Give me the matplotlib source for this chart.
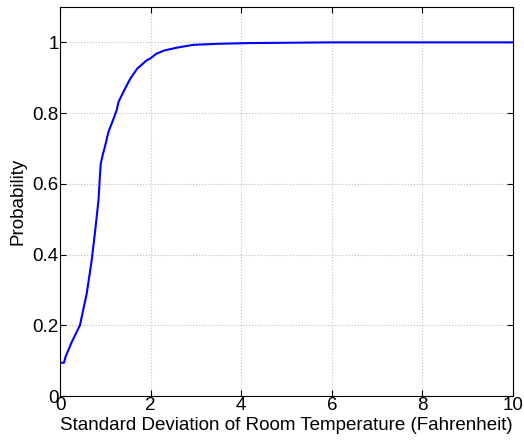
import matplotlib
matplotlib.use("Agg")
import matplotlib.pyplot as plt

plt.rcParams['font.family'] = ['Liberation Sans', 'DejaVu Sans']

std_dev = [0.0, 0.088, 0.12, 0.25, 0.44, 0.59, 0.70, 0.77, 0.85, 0.88, 0.90, 0.95, 0.99, 1.07,
           1.17, 1.25, 1.29, 1.40, 1.55, 1.70, 1.91, 2.00, 2.13, 2.30, 2.58, 2.94, 3.5, 4.19, 6.0, 10.0]
probability = [0.094, 0.094, 0.11, 0.15, 0.20, 0.29, 0.384, 0.46, 0.554, 0.62, 0.657, 0.685, 0.704, 0.747,
               0.78, 0.808, 0.831, 0.86, 0.897, 0.925, 0.949, 0.955, 0.968, 0.977, 0.985, 0.993, 0.996, 0.998, 1.0, 1.0]
xticks = [0, 2, 4, 6, 8, 10]
yticks = [0, 0.2, 0.4, 0.6, 0.8, 1]
ytick_labels = ['0', '0.2', '0.4', '0.6', '0.8', '1']

fig = plt.figure(figsize=(5.24, 4.40), dpi=100)
ax = fig.add_axes([60/524, 1 - 396/440, (513-60)/524, (396-7)/440])
ax.plot(std_dev, probability, color='#0000ff', lw=1.5)
ax.set_xlim(0, 10)
ax.set_ylim(0, 1.1)
ax.set_xticks(xticks)
ax.set_xticklabels([str(t) for t in xticks])
ax.set_yticks(yticks)
ax.set_yticklabels(ytick_labels)
ax.grid(True, color='#c0c0c0', linestyle=':', linewidth=0.8)
ax.tick_params(direction='in', length=4, labelsize=13.5, pad=1, top=True, right=True)
for s in ax.spines.values():
    s.set_linewidth(0.8)
ax.set_xlabel('Standard Deviation of Room Temperature (Fahrenheit)', fontsize=13.5, labelpad=2)
ax.set_ylabel('Probability', fontsize=13.5, labelpad=4)
fig.savefig('out.png', dpi=100)
